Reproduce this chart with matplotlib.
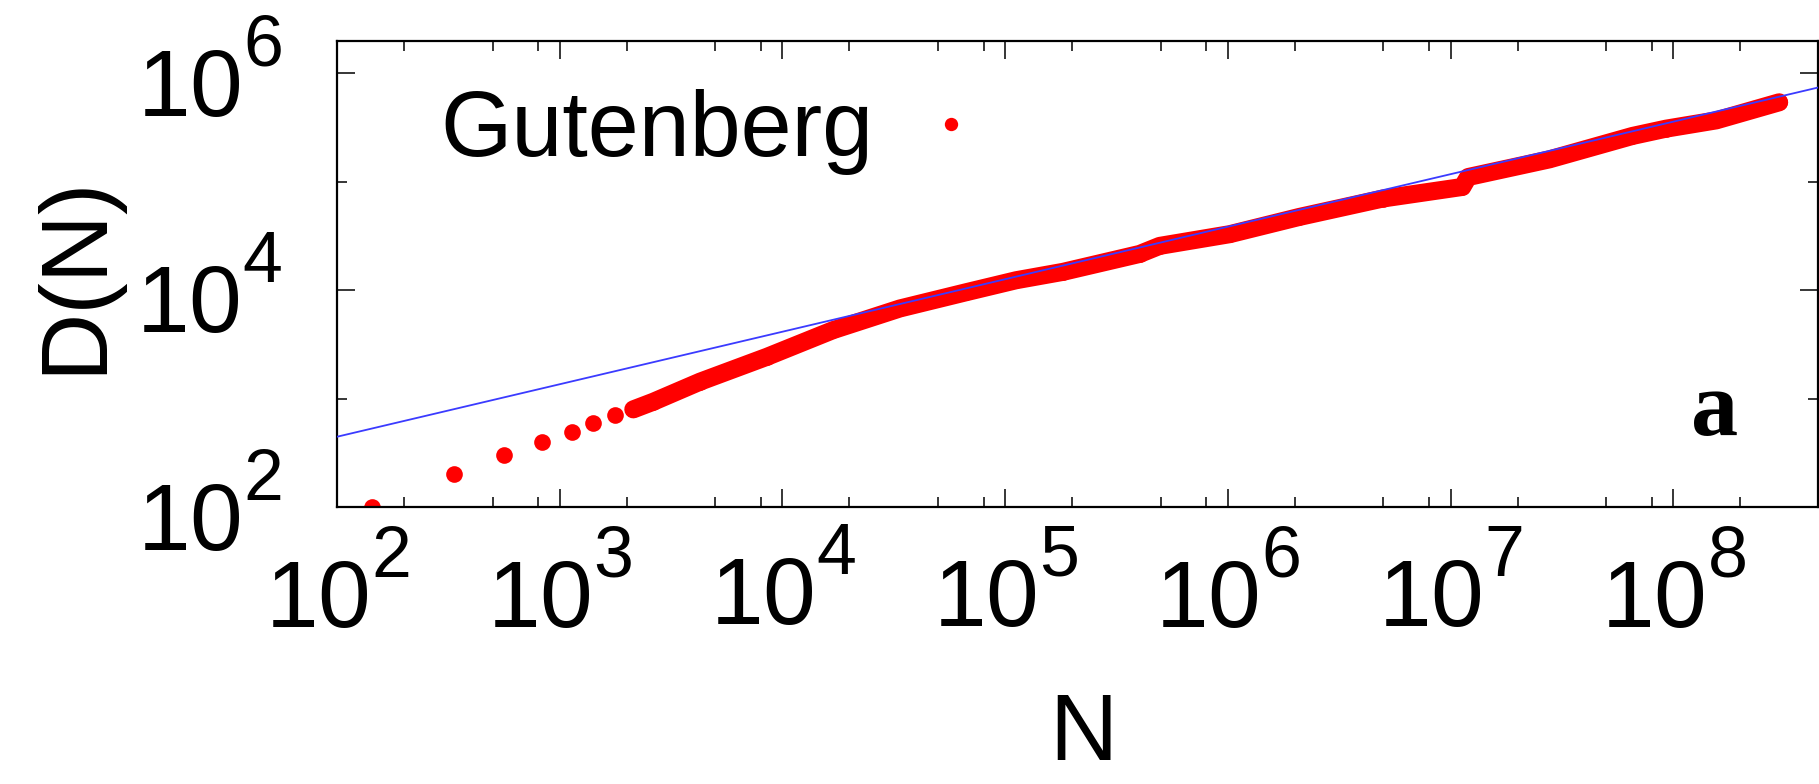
import numpy as np
import matplotlib
matplotlib.use("Agg")
import matplotlib.pyplot as plt
from matplotlib.ticker import FixedLocator, FixedFormatter, LogLocator, NullFormatter

plt.rcParams['font.family'] = ['Liberation Sans', 'DejaVu Sans']
plt.rcParams['mathtext.fontset'] = 'custom'
plt.rcParams['mathtext.rm'] = 'Liberation Sans'
plt.rcParams['mathtext.it'] = 'Liberation Sans:italic'
plt.rcParams['mathtext.bf'] = 'Liberation Sans:bold'

# gnuplot-like exponents: bigger and raised higher than mathtext default
try:
    import matplotlib._mathtext as _mt
    _mt.FontConstantsBase.sup1 = 1.0
    _mt.SHRINK_FACTOR = 0.76
except (ImportError, AttributeError):
    pass

# Gutenberg corpus: number of distinct words D vs text length N
n_tokens = [144, 335, 564, 832, 1130, 1410, 1770, 2140, 2630, 4270, 8510,
            16900, 33700, 67000, 112000, 182000, 402000, 494000, 1020000,
            2090000, 4970000, 11300000, 12000000, 27800000, 65600000,
            92900000, 156000000, 299000000]
n_distinct = [100, 203, 299, 398, 491, 593, 698, 794, 933, 1430, 2420,
              4270, 6760, 9550, 12300, 14700, 21500, 25500, 32700, 47100,
              69700, 89100, 110000, 160000, 263000, 307000, 366000, 537000]

# Heaps' law fit D = K * N^beta
heaps_k = 47.8
heaps_beta = 0.484

x_ticks = [1e2, 1e3, 1e4, 1e5, 1e6, 1e7, 1e8]
x_labels = [r'$\mathregular{10^{%d}}$' % e for e in range(2, 9)]
y_ticks = [1e2, 1e4, 1e6]
y_labels = [r'$\mathregular{10^{%d}}$' % e for e in (2, 4, 6)]
y_minor = [1e3, 1e5]

FS = 68

fig = plt.figure(figsize=(18.19, 7.84), dpi=100)
ax = fig.add_axes([337 / 1819, 1 - 507 / 784, (1818 - 337) / 1819, (507 - 41) / 784])
ax.set_xscale('log')
ax.set_yscale('log')
ax.set_xlim(1e2, 10 ** 8.65)
ax.set_ylim(1e2, 10 ** 6.295)

nn = np.array(ax.get_xlim())
ax.plot(nn, heaps_k * nn ** heaps_beta, color='#3b3bff', lw=1.3, zorder=3)
# dense part of the data: points overlap into a thick band
ax.plot(n_tokens[7:], n_distinct[7:], '-', color='red', lw=13,
        solid_capstyle='round', solid_joinstyle='round', zorder=2)
ax.plot(n_tokens, n_distinct, 'o', color='red', ms=12, mew=0,
        label='Gutenberg', zorder=2)

ax.xaxis.set_major_locator(FixedLocator(x_ticks))
ax.xaxis.set_major_formatter(FixedFormatter(x_labels))
ax.xaxis.set_minor_locator(LogLocator(base=10, subs=(2, 5, 8), numticks=50))
ax.xaxis.set_minor_formatter(NullFormatter())
ax.yaxis.set_major_locator(FixedLocator(y_ticks))
ax.yaxis.set_major_formatter(FixedFormatter(y_labels))
ax.yaxis.set_minor_locator(FixedLocator(y_minor))
ax.yaxis.set_minor_formatter(NullFormatter())

ax.tick_params(which='both', direction='in', top=True, right=True, width=1.1)
ax.tick_params(which='major', length=13, labelsize=FS)
ax.tick_params(which='minor', length=7)
ax.tick_params(axis='x', which='major', pad=24)
ax.tick_params(axis='y', which='major', pad=40)
for s in ax.spines.values():
    s.set_linewidth(1.6)

ax.set_xlabel('N', fontsize=FS)
ax.xaxis.set_label_coords(0.5037, -0.395)
ax.set_ylabel('D(N)', fontsize=FS)
ax.yaxis.set_label_coords(-0.1465, 0.5)

ax.legend(loc='upper left', bbox_to_anchor=(0.0699, 0.897), frameon=False,
          markerfirst=False, handlelength=0.57, handletextpad=0.56,
          borderpad=0, borderaxespad=0, fontsize=66, markerscale=0.8)

ax.text(0.930, 0.1545, 'a', transform=ax.transAxes, fontsize=68,
        fontfamily=['Liberation Serif', 'DejaVu Serif'], fontweight='bold',
        ha='center', va='baseline')

fig.savefig('out.png', dpi=100)
